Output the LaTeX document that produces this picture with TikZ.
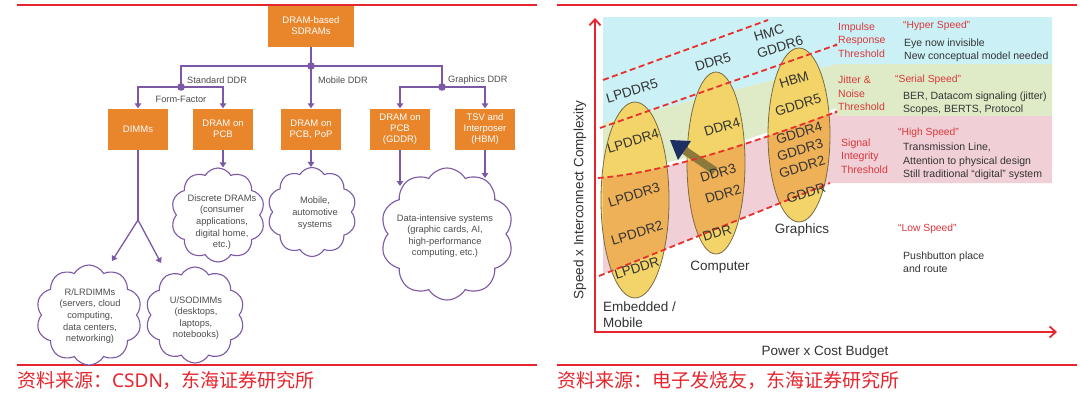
\documentclass[tikz,border=0pt]{standalone}
\usepackage{fontspec}
\setmainfont{Liberation Sans}
\newfontfamily\cjk{Noto Sans CJK SC}
\newfontfamily\capsans{Noto Sans}
\usetikzlibrary{arrows.meta,shapes.symbols,positioning}

\definecolor{boxorange}{HTML}{E9852B}
\definecolor{linkpurple}{HTML}{7D58A6}
\definecolor{rulered}{HTML}{E5262E}
\definecolor{labelgray}{HTML}{4D4D4D}
\definecolor{bandcyan}{HTML}{CBF1F6}
\definecolor{bandgreen}{HTML}{DFEBC6}
\definecolor{bandpink}{HTML}{F1CFD6}
\definecolor{ovalyellow}{HTML}{F3D468}
\definecolor{ovalorange}{HTML}{EEB157}
\definecolor{ovalline}{HTML}{7A6B45}
\definecolor{dashred}{HTML}{E8302C}
\definecolor{tagred}{HTML}{D8383C}
\definecolor{bodytext}{HTML}{333333}
\definecolor{shaftolive}{HTML}{8C7A3C}
\definecolor{headnavy}{HTML}{1C2E63}

\def\pinkband{(603,178) .. controls (650,174) and (720,155) .. (836,112) -- (836,116) -- (1052,116) -- (1052,183) -- (830,183) -- (603,274) -- cycle}

\begin{document}
\begin{tikzpicture}[x=1pt, y=-1pt,
        catbox/.style={rectangle, fill=boxorange, text=white, minimum width=60pt, minimum height=41pt, inner sep=1pt, align=center, font=\fontsize{9.5}{11}\selectfont},
        usecloud/.style={cloud, cloud puffs=10, cloud puff arc=120, cloud ignores aspect, draw=linkpurple, line width=1.1pt, fill=white, inner sep=0pt},
        cloudtext/.style={align=center, text=labelgray, font=\fontsize{9.3}{11.6}\selectfont, inner sep=0pt},
        branchlabel/.style={anchor=west, text=labelgray, font=\fontsize{9.2}{11}\selectfont, inner sep=0pt},
        link/.style={draw=linkpurple, line width=1.3pt},
        arrow/.style={link, -{Triangle[width=6.5pt,length=5pt]}},
        joint/.style={fill=linkpurple},
        rule/.style={draw=rulered, line width=2pt},
        caption/.style={anchor=west, text=rulered, font=\cjk\fontsize{19}{20}\selectfont, inner sep=0pt},
        thresh/.style={draw=dashred, line width=1.8pt, dash pattern=on 6pt off 3.5pt},
        oval/.style={draw=ovalline, line width=0.8pt},
        ovaltag/.style={rotate=17, text=bodytext, font=\fontsize{13.5}{14}\selectfont, inner sep=0pt},
        marketlabel/.style={text=bodytext, font=\fontsize{13.5}{16}\selectfont, inner sep=0pt},
        threshtag/.style={anchor=west, align=left, text=tagred, font=\fontsize{10.5}{13.3}\selectfont, inner sep=0pt},
        speedtag/.style={anchor=west, text=tagred, font=\fontsize{10.3}{12}\selectfont, inner sep=0pt},
        note/.style={anchor=west, align=left, text=bodytext, font=\fontsize{10.5}{13.3}\selectfont, inner sep=0pt},
        axislabel/.style={text=bodytext, font=\fontsize{13.5}{15}\selectfont, inner sep=0pt},
        chartaxis/.style={draw=rulered, line width=1.8pt, {Straight Barb[length=6pt,width=11pt]}-{Straight Barb[length=6pt,width=11pt]}}
    ]
        \useasboundingbox (0,0) rectangle (1080,400);
        \fill[white] (0,0) rectangle (1080,400);

        \draw[rule] (17,5) -- (537,5);
        \draw[rule] (17,365) -- (537,365);
        \draw[rule] (557,5) -- (1077,5);
        \draw[rule] (557,365) -- (1077,365);
        \node[caption] (leftsource) at (17,380) {资料来源：{\capsans CSDN}，东海证券研究所};
        \node[caption] (rightsource) at (557,380) {资料来源：电子发烧友，东海证券研究所};

        \node[catbox, minimum width=86pt] (root) at (311,26) {DRAM-based\\SDRAMs};
        \node[catbox] (dimms) at (138,129) {DIMMs};
        \node[catbox] (pcb) at (223,129) {DRAM on\\PCB};
        \node[catbox] (pop) at (311,129) {DRAM on\\PCB, PoP};
        \node[catbox] (gddr) at (400,129) {DRAM on\\PCB\\(GDDR)};
        \node[catbox] (hbm) at (485,129) {TSV and\\Interposer\\(HBM)};

        \coordinate (hub) at (311,66);
        \coordinate (stdhub) at (181,87);
        \coordinate (gfxhub) at (442,87);
        \draw[link] (root) -- (hub);
        \draw[link] (hub) -| (stdhub);
        \draw[link] (hub) -| (gfxhub);
        \draw[arrow] (hub) -- (pop);
        \draw[arrow] (stdhub) -| (dimms);
        \draw[arrow] (stdhub) -| (pcb);
        \draw[arrow] (gfxhub) -| (gddr);
        \draw[arrow] (gfxhub) -| (hbm);
        \foreach \j in {hub, stdhub, gfxhub}
            \fill[joint] (\j) circle (3.8);

        \node[branchlabel] (stdlabel) at (187,80) {Standard DDR};
        \node[branchlabel] (moblabel) at (318,80) {Mobile DDR};
        \node[branchlabel] (gfxlabel) at (448,80) {Graphics DDR};
        \node[branchlabel, anchor=center] (formlabel) at (181,99) {Form-Factor};

        \node[usecloud, minimum width=94pt, minimum height=94pt] (discrete) at (218,215) {};
        \node[usecloud, minimum width=89pt, minimum height=89pt] (mobile) at (312,212) {};
        \node[usecloud, minimum width=133pt, minimum height=132pt] (dataint) at (447,234) {};
        \node[usecloud, minimum width=106pt, minimum height=100pt] (rlr) at (89,315) {};
        \node[usecloud, minimum width=99pt, minimum height=96pt] (uso) at (195,315) {};
        \node[cloudtext] (discretetext) at (222,222) {Discrete DRAMs\\(consumer\\applications,\\digital home,\\etc.)};
        \node[cloudtext] (mobiletext) at (315,213) {Mobile,\\automotive\\systems};
        \node[cloudtext] (datatext) at (445,236) {Data-intensive systems\\(graphic cards, AI,\\high-performance\\computing, etc.)};
        \node[cloudtext] (rlrtext) at (90,316) {R/LRDIMMs\\(servers, cloud\\computing,\\data centers,\\networking)};
        \node[cloudtext] (usotext) at (196,318) {U/SODIMMs\\(desktops,\\laptops,\\notebooks)};

        \coordinate (split) at (138,220);
        \coordinate (rlrin) at (112,261);
        \coordinate (usoin) at (161,263);
        \coordinate (gddrin) at (400,186);
        \coordinate (hbmin) at (485,178);
        \draw[link] (dimms) -- (split);
        \draw[arrow] (split) -- (rlrin);
        \draw[arrow] (split) -- (usoin);
        \draw[arrow] (pcb) -- (pcb |- discrete.north);
        \draw[arrow] (pop) -- (pop |- mobile.north);
        \draw[arrow] (gddr) -- (gddrin);
        \draw[arrow] (hbm) -- (hbmin);

        \fill[bandcyan] (603,17) -- (1052,17) -- (1052,64) -- (837,64) -- (603,123) -- cycle;
        \fill[bandgreen] (603,123) -- (837,64) -- (1052,64) -- (1052,116) -- (836,116) -- (836,108) .. controls (720,151) and (650,170) .. (603,174) -- cycle;
        \fill[bandpink] \pinkband;

        \foreach \cx/\cy/\rx/\ry in {635/200/34/98, 716/163/29/91, 799/135/31/87}
            \fill[ovalyellow] (\cx,\cy) ellipse [x radius=\rx, y radius=\ry];
        \begin{scope}
            \clip \pinkband;
            \foreach \cx/\cy/\rx/\ry in {635/200/34/98, 716/163/29/91, 799/135/31/87}
                \fill[ovalorange] (\cx,\cy) ellipse [x radius=\rx, y radius=\ry];
        \end{scope}
        \foreach \cx/\cy/\rx/\ry in {635/200/34/98, 716/163/29/91, 799/135/31/87}
            \draw[oval] (\cx,\cy) ellipse [x radius=\rx, y radius=\ry];

        \draw[draw=shaftolive, line width=8pt] (715,171) -- (684,150);
        \fill[headnavy] (670,140) -- (691,141) -- (678,160) -- cycle;

        \draw[thresh] (603,80) -- (768,20);
        \draw[thresh] (600,128) -- (836,45);
        \draw[thresh] (598,178) .. controls (650,174) and (720,155) .. (836,112);
        \draw[thresh] (599,276) -- (830,183);
        \fill[dashred] (836,45) circle (1.6);
        \fill[dashred] (836,112) circle (1.6);

        \node[ovaltag] (lp5) at (632,91) {LPDDR5};
        \node[ovaltag] (lp4) at (633,141) {LPDDR4};
        \node[ovaltag] (lp3) at (634,195) {LPDDR3};
        \node[ovaltag] (lp2) at (637,233) {LPDDR2};
        \node[ovaltag] (lp1) at (637,268) {LPDDR};
        \node[ovaltag] (d5) at (713,62) {DDR5};
        \node[ovaltag] (d4) at (722,127) {DDR4};
        \node[ovaltag] (d3) at (718,173) {DDR3};
        \node[ovaltag] (d2) at (723,194) {DDR2};
        \node[ovaltag] (d1) at (717,233) {DDR};
        \node[ovaltag] (hmc) at (769,33) {HMC};
        \node[ovaltag] (g6) at (780,47) {GDDR6};
        \node[ovaltag] (hbmtag) at (794,80) {HBM};
        \node[ovaltag] (g5) at (798,105) {GDDR5};
        \node[ovaltag] (g4) at (799,133) {GDDR4};
        \node[ovaltag] (g3) at (800,150) {GDDR3};
        \node[ovaltag] (g2) at (802,167) {GDDR2};
        \node[ovaltag] (g1) at (806,193) {GDDR};

        \node[marketlabel, anchor=west, align=left] (embedded) at (603,315) {Embedded /\\Mobile};
        \node[marketlabel] (computer) at (720,267) {Computer};
        \node[marketlabel] (graphics) at (802,230) {Graphics};

        \node[threshtag] (impulse) at (838,40) {Impulse\\Response\\Threshold};
        \node[threshtag] (jitter) at (838,93.5) {Jitter \&\\Noise\\Threshold};
        \node[threshtag] (signal) at (841,156) {Signal\\Integrity\\Threshold};
        \node[speedtag] (hyper) at (903,26) {“Hyper Speed”};
        \node[speedtag] (serial) at (895,80) {“Serial Speed”};
        \node[speedtag] (high) at (898,133) {“High Speed”};
        \node[speedtag] (low) at (898,229) {“Low Speed”};
        \node[note] (hypernote) at (904,50.5) {Eye now invisible\\New conceptual model needed};
        \node[note] (serialnote) at (903,103.5) {BER, Datacom signaling (jitter)\\Scopes, BERTS, Protocol};
        \node[note] (highnote) at (903,161.5) {Transmission Line,\\Attention to physical design\\Still traditional “digital” system};
        \node[note] (lownote) at (903,262.5) {Pushbutton place\\and route};

        \draw[chartaxis] (595,18) -- (595,332) -- (1057,332);
        \node[axislabel] (xlabel) at (825,352) {Power x Cost Budget};
        \node[axislabel, rotate=90] (ylabel) at (580,200) {Speed x Interconnect Complexity};
    \end{tikzpicture}
\end{document}
